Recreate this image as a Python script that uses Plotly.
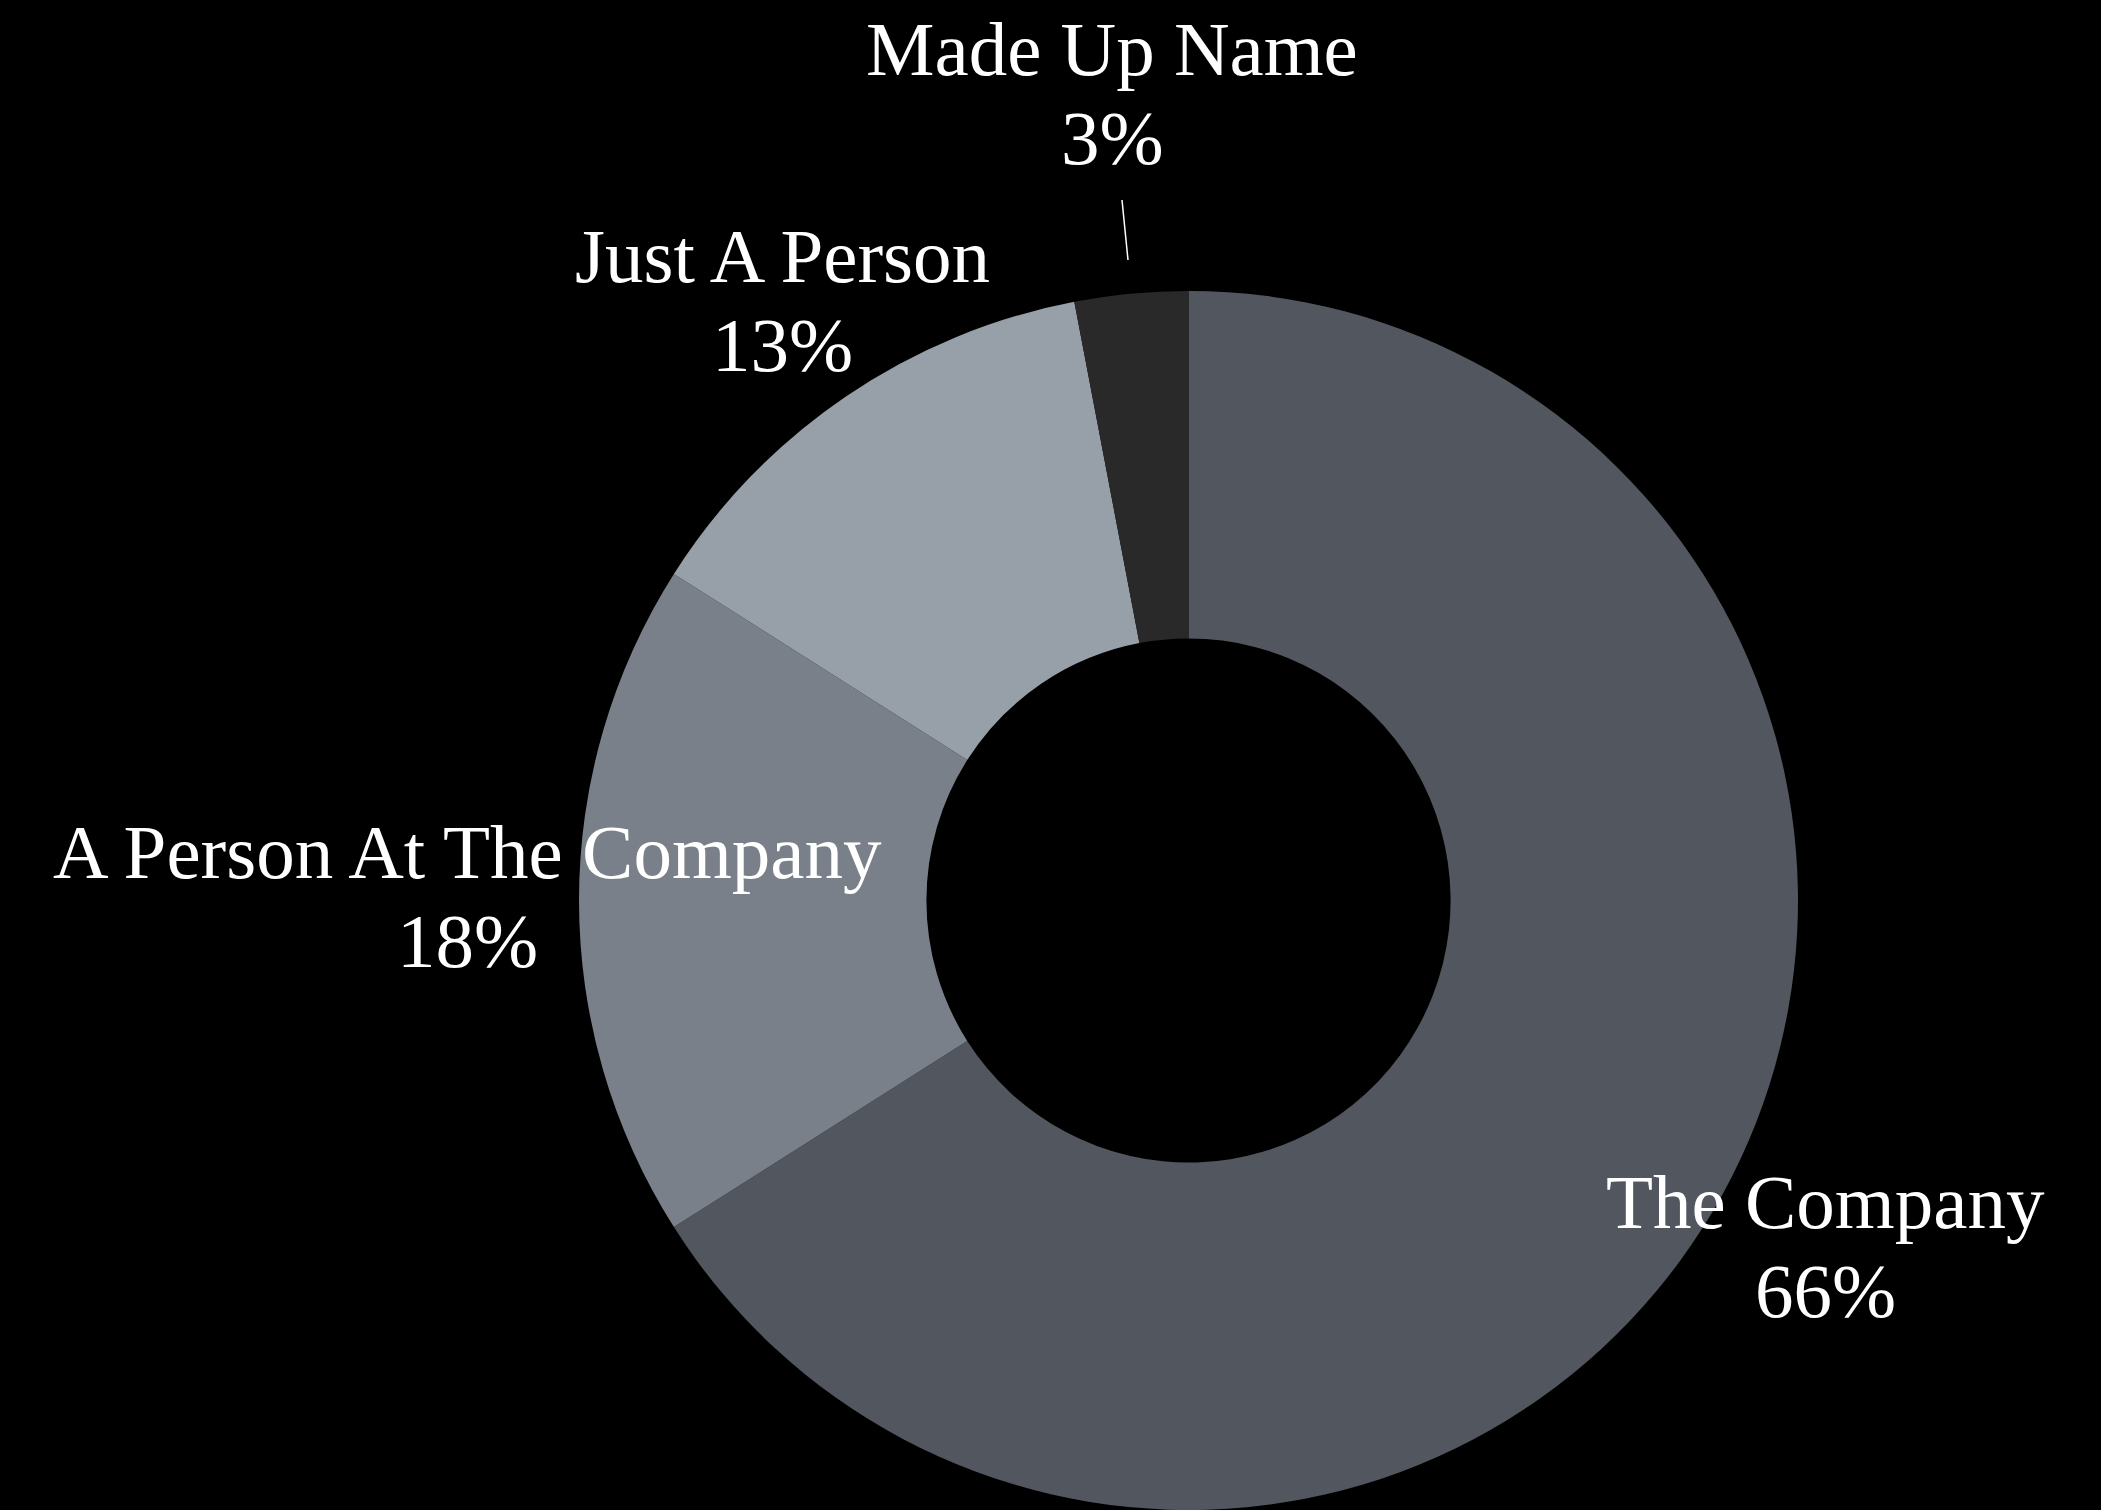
import plotly.graph_objects as go

# Share of responses by category
categories = ["The Company", "A Person At The Company", "Just A Person", "Made Up Name"]
values = [66, 18, 13, 3]
colors = ["#52565e", "#7a8089", "#97a0a9", "#292929"]

W, H = 2101, 1510
FONT = "Liberation Serif"
FS = 77

# Label placement (pixel centre x, baseline y of first line) per category
label_pos = {
    "The Company": (1825, 1228),
    "A Person At The Company": (467, 878),
    "Just A Person": (782, 282),
    "Made Up Name": (1112, 75),
}
LINE_GAP = 89


def px(x):
    return x / W


def py(y):
    return 1 - y / H


fig = go.Figure()
fig.add_trace(go.Pie(
    labels=categories,
    values=values,
    hole=0.43,
    sort=False,
    direction="clockwise",
    rotation=0,
    marker=dict(colors=colors, line=dict(width=0)),
    textinfo="none",
    hoverinfo="label+percent",
    domain=dict(x=[579 / W, 1798 / W], y=[0, 1219 / H]),
    showlegend=False,
))

annotations = []
total = sum(values)
for name, v in zip(categories, values):
    cx, base = label_pos[name]
    pct = f"{round(100 * v / total)}%"
    for i, line in enumerate([name, pct]):
        b = base + i * LINE_GAP
        mid = b - 0.34 * FS
        annotations.append(dict(
            x=px(cx), y=py(mid), xref="paper", yref="paper",
            text=line, showarrow=False, xanchor="center", yanchor="middle",
            font=dict(family=FONT, size=FS, color="#ffffff"),
        ))

fig.update_layout(
    width=W, height=H,
    margin=dict(l=0, r=0, t=0, b=0),
    paper_bgcolor="#000000",
    plot_bgcolor="#000000",
    annotations=annotations,
    shapes=[dict(
        type="line", xref="paper", yref="paper",
        x0=px(1122), y0=py(200), x1=px(1128), y1=py(260),
        line=dict(color="#ffffff", width=1.5),
    )],
)

fig.write_html("out.html")
